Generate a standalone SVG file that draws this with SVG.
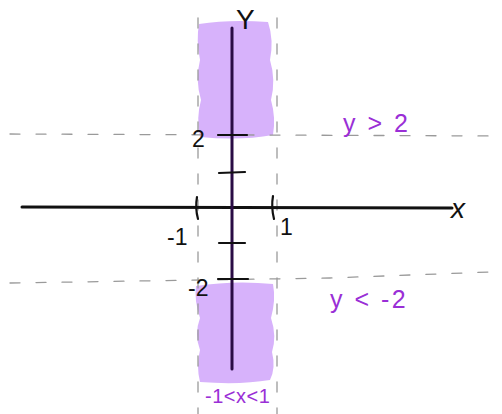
<svg xmlns="http://www.w3.org/2000/svg" width="502" height="414" viewBox="0 0 502 414">
<style>
.region{fill:#d7b2fb;stroke:none}
.dash{fill:none;stroke:#9a9a9a;stroke-width:1.3;stroke-dasharray:10 16;stroke-linecap:round}
.axis{fill:none;stroke:#111;stroke-width:3;stroke-linecap:round}
.yaxis{fill:none;stroke:#2a0c45;stroke-width:3;stroke-linecap:round}
.tick{fill:none;stroke:#111;stroke-width:2.2;stroke-linecap:round}
.lbl{font-family:"Liberation Sans",Arial,sans-serif;font-size:23px;fill:#111}
.plbl{font-family:"Liberation Sans",Arial,sans-serif;font-size:25px;fill:#9a2fd6;letter-spacing:2.5px}
.big{font-size:28px}
.small{font-size:20px;letter-spacing:0.5px}
</style>
<rect width="502" height="414" fill="#fff"/>
<g id="regions">
<path class="region" d="M199 24 Q230 19 268 22 Q274 40 270 60 Q276 80 271 100 Q276 118 273 135 Q240 141 200 137 Q196 118 201 100 Q195 80 200 60 Q196 40 199 24 Z"/>
<path class="region" d="M196 286 Q235 280 273 284 Q276 300 271 318 Q277 336 272 352 Q276 368 270 380 Q240 385 200 382 Q196 366 200 350 Q194 334 200 318 Q194 300 196 286 Z"/>
</g>
<g id="guides">
<path class="dash" d="M10 134 L502 136"/>
<path class="dash" d="M10 283 L330 278 L490 272"/>
<path class="dash" d="M198 18 L198 414"/>
<path class="dash" d="M277 18 L277 414"/>
</g>
<g id="axes">
<path class="axis" d="M22 207 L452 208"/>
<path class="yaxis" d="M232 28 L232 369"/>
<path class="tick" d="M218 135 L247 135"/>
<path class="tick" d="M219 173 L245 172"/>
<path class="tick" d="M219 243 L245 243"/>
<path class="tick" d="M218 279 L248 279"/>
<path class="tick" d="M197 197 Q195 208 198 219"/>
<path class="tick" d="M273 196 Q271 207 274 219"/>
</g>
<g id="labels">
<text class="lbl big" x="236" y="29">Y</text>
<text class="lbl big" x="451" y="218" font-style="italic">x</text>
<text class="lbl" x="192" y="147">2</text>
<text class="lbl" x="167" y="245">-1</text>
<text class="lbl" x="280" y="235">1</text>
<text class="lbl" x="188" y="296">-2</text>
<text class="plbl" x="343" y="132">y &gt; 2</text>
<text class="plbl" x="330" y="308">y &lt; -2</text>
<text class="plbl small" x="205" y="403">-1&lt;x&lt;1</text>
</g>
</svg>
